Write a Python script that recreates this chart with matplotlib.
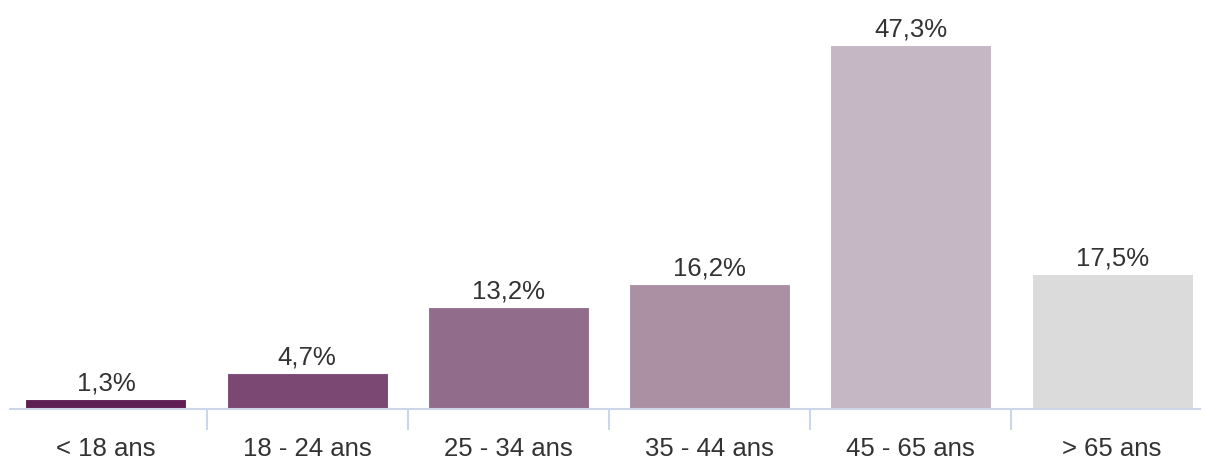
import matplotlib
matplotlib.use("Agg")
import matplotlib.pyplot as plt
from matplotlib.ticker import FixedLocator

# Age groups and share of respondents (%)
categories = ["< 18 ans", "18 - 24 ans", "25 - 34 ans", "35 - 44 ans", "45 - 65 ans", "> 65 ans"]
values = [1.3, 4.7, 13.2, 16.2, 47.3, 17.5]
labels = ["1,3%", "4,7%", "13,2%", "16,2%", "47,3%", "17,5%"]
colors = ["#5f1f55", "#7b4873", "#926d8b", "#ab90a3", "#c5b7c3", "#dbdbdb"]

plt.rcParams["font.family"] = ["Liberation Sans", "DejaVu Sans"]

fig = plt.figure(figsize=(12.05, 4.62), dpi=100)
ax = fig.add_axes([10 / 1205, 53 / 462, 1190 / 1205, 409 / 462])

x = list(range(len(categories)))
ax.bar(x, values, width=0.8, color=colors, edgecolor="white", linewidth=0.8, zorder=2)

for xi, v, lab in zip(x, values, labels):
    ax.annotate(lab, (xi, v), xytext=(0, 2.5), textcoords="offset points",
                ha="center", va="bottom", fontsize=18.5, color="#333333")

ax.set_xlim(-0.477, 5.437)
ax.set_ylim(0, 53.1)

for side in ["top", "right", "left"]:
    ax.spines[side].set_visible(False)
ax.spines["bottom"].set_color("#ccd6eb")
ax.spines["bottom"].set_linewidth(1.5)

ax.set_yticks([])
ax.set_xticks(x)
ax.set_xticklabels(categories, fontsize=18.5, color="#333333")
ax.tick_params(axis="x", which="major", length=0, pad=20.5)
ax.xaxis.set_minor_locator(FixedLocator([i + 0.5 for i in range(len(categories) - 1)]))
ax.tick_params(axis="x", which="minor", length=15, width=1.5, color="#ccd6eb")

fig.savefig("out.png", dpi=100)
